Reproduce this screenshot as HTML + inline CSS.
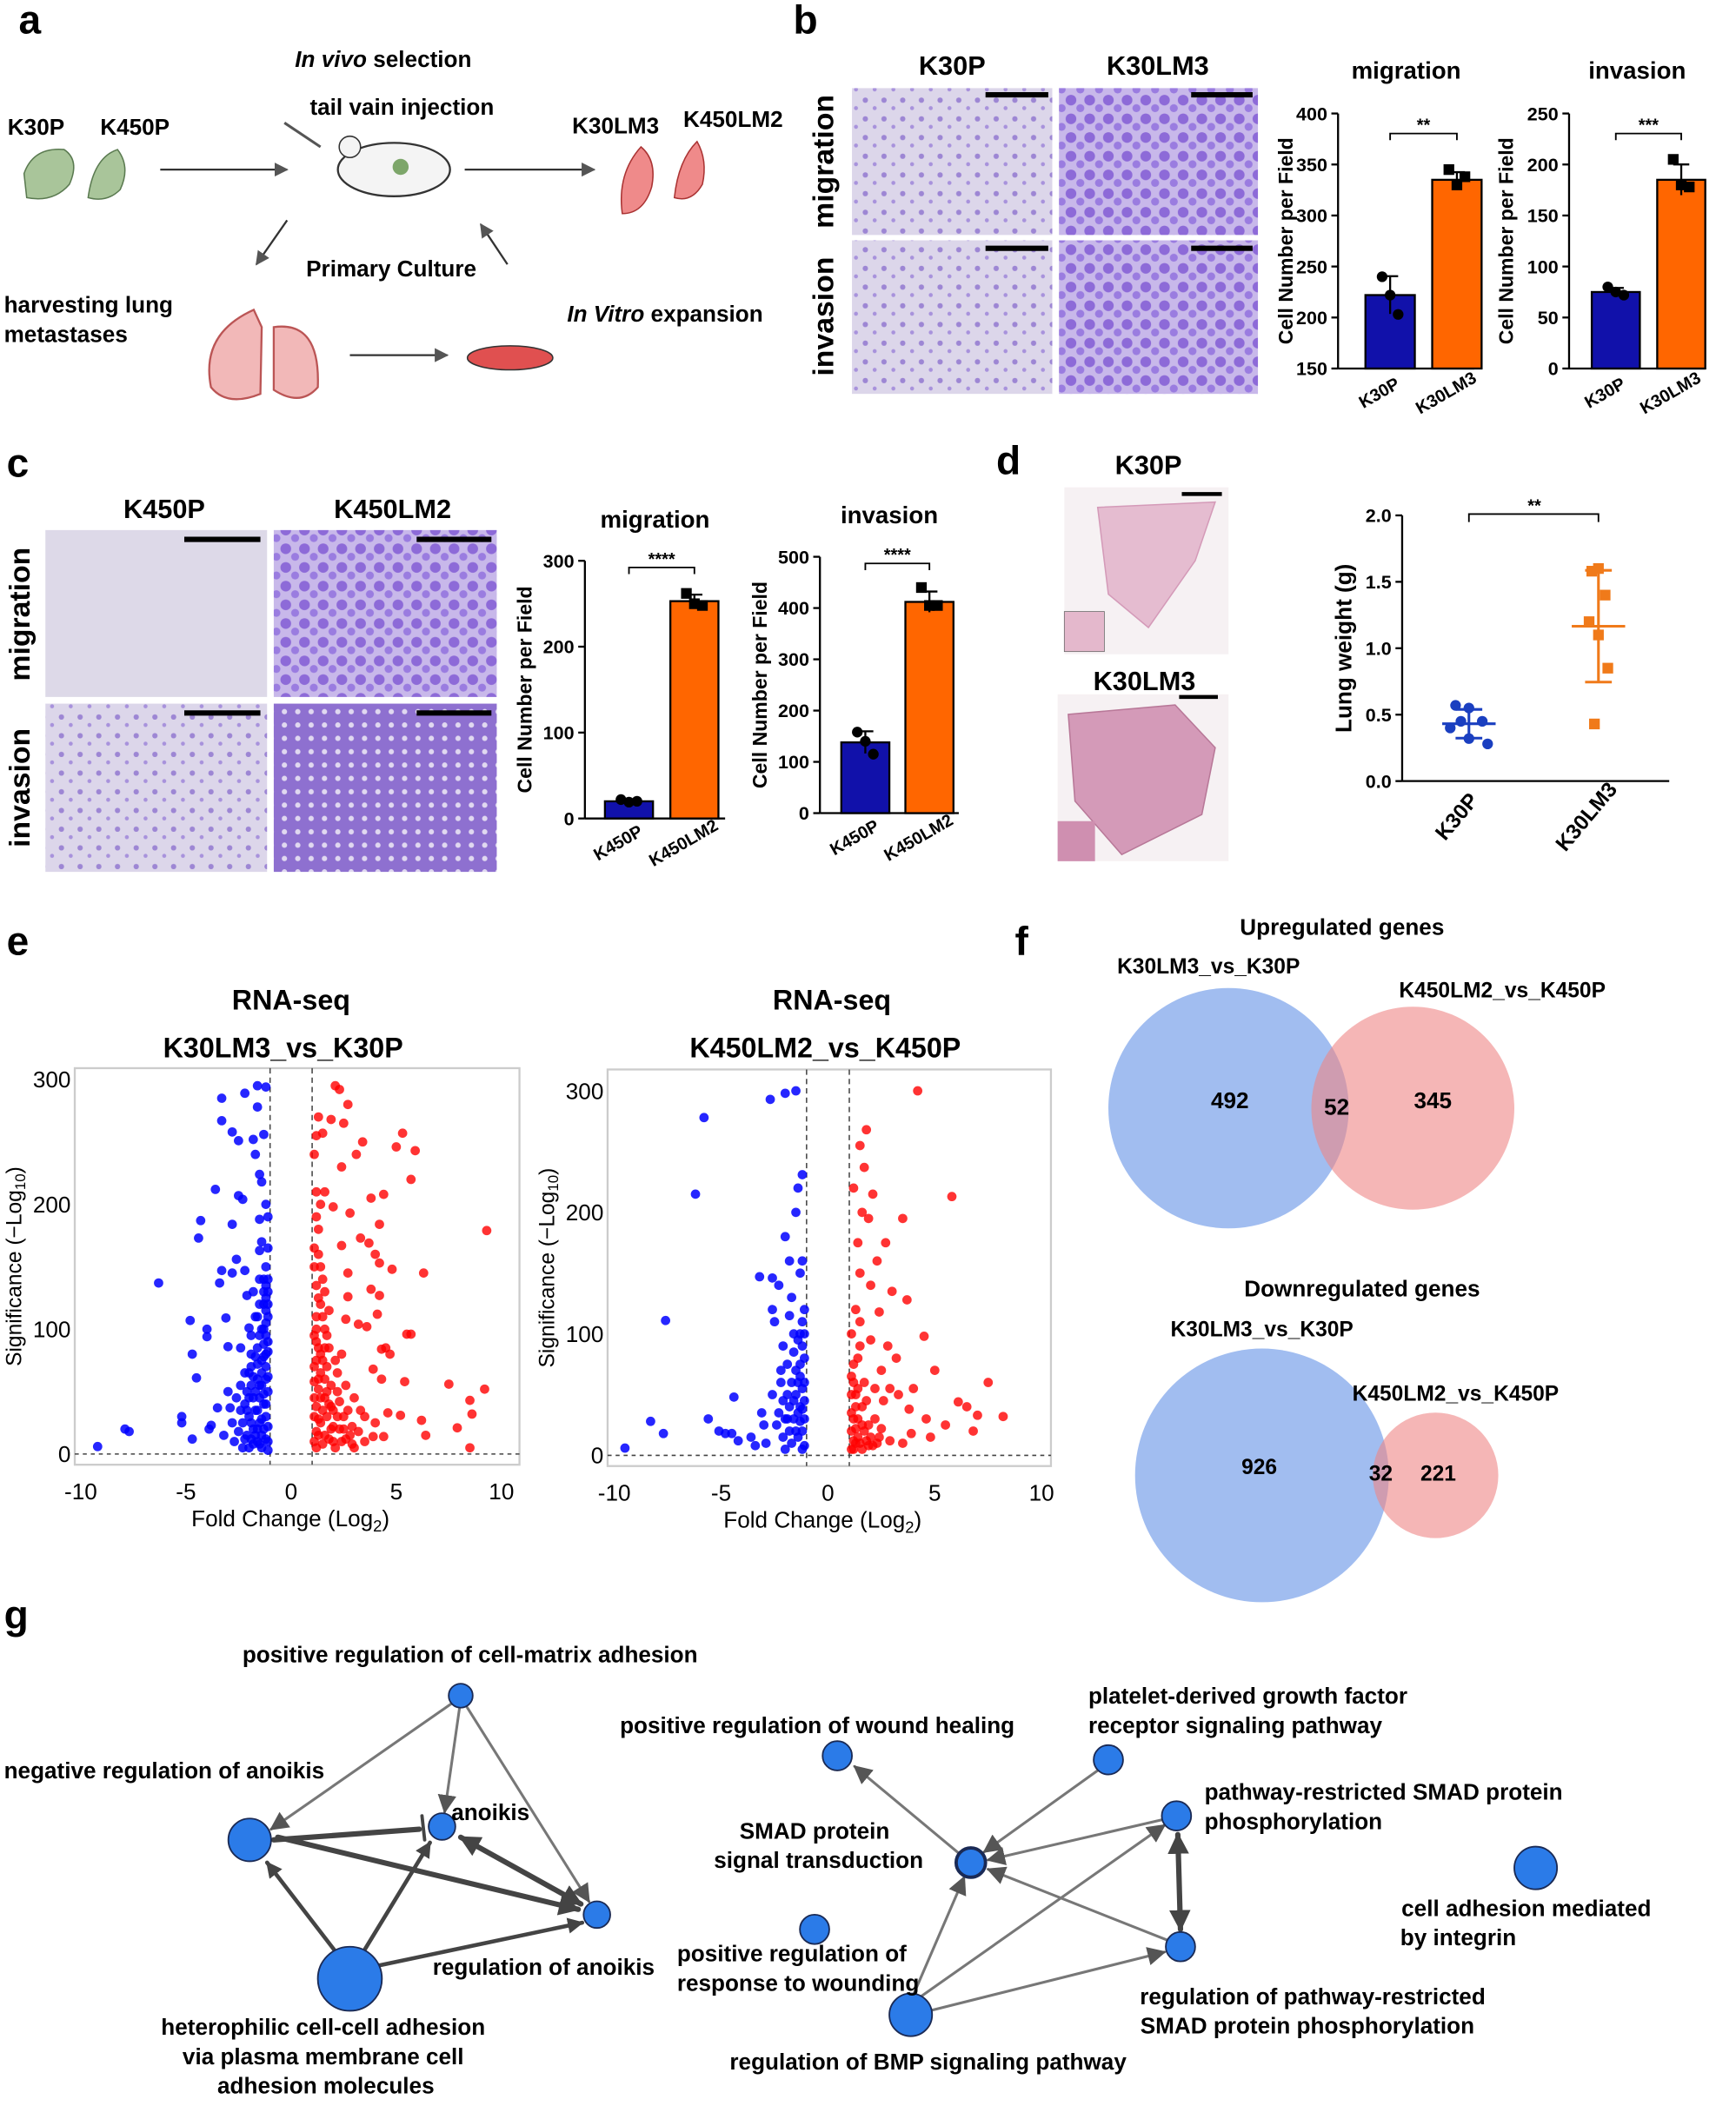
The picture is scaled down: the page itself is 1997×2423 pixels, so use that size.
<!DOCTYPE html>
<html><head><meta charset="utf-8"><style>
html,body{margin:0;padding:0;background:#fff}
svg{display:block}
text{font-family:"Liberation Sans",Arial,sans-serif}
.b{font-weight:bold}
</style></head><body>
<svg id="fig" xmlns="http://www.w3.org/2000/svg" width="1997" height="2423" viewBox="0 0 1300 1577.3" preserveAspectRatio="none">
<defs>
<pattern id="pl" width="14" height="14" patternUnits="userSpaceOnUse"><rect width="14" height="14" fill="#dcd6ea"/><circle cx="4" cy="5" r="2" fill="#9d86d4"/><circle cx="11" cy="11" r="1.5" fill="#a892dc"/></pattern>
<pattern id="pm" width="14" height="14" patternUnits="userSpaceOnUse"><rect width="14" height="14" fill="#c8b8ea"/><circle cx="4" cy="5" r="4" fill="#8d6ad8"/><circle cx="11" cy="11" r="3" fill="#9a7ce0"/></pattern>
<pattern id="pd" width="10" height="10" patternUnits="userSpaceOnUse"><rect width="10" height="10" fill="#8e70d0"/><circle cx="3" cy="3" r="2" fill="#e0d8f0"/></pattern>
<marker id="ar" viewBox="0 0 10 10" refX="9" refY="5" markerWidth="7" markerHeight="7" orient="auto"><path d="M0,0L10,5L0,10z" fill="#555"/></marker>
<marker id="ar2" viewBox="0 0 10 10" refX="9" refY="5" markerWidth="4" markerHeight="4" orient="auto-start-reverse"><path d="M0,0L10,5L0,10z" fill="#444"/></marker>
</defs>

<g>
<text x="14" y="25" font-size="30" class="b">a</text>
<text x="287" y="50" font-size="17" text-anchor="middle" class="b"><tspan font-style="italic">In vivo</tspan> selection</text>
<text x="301" y="86" font-size="17" text-anchor="middle" class="b">tail vain injection</text>
<text x="27" y="101" font-size="17" text-anchor="middle" class="b">K30P</text>
<text x="101" y="101" font-size="17" text-anchor="middle" class="b">K450P</text>
<path d="M18,130 Q25,110 48,112 Q60,120 52,138 Q40,152 20,148Z" fill="#a9c59a" stroke="#5a7a50"/>
<path d="M66,148 Q70,118 88,112 Q98,125 90,142 Q80,152 66,148Z" fill="#a9c59a" stroke="#5a7a50"/>
<line x1="120" y1="127" x2="215" y2="127" stroke="#333" stroke-width="1.5" marker-end="url(#ar)"/>
<ellipse cx="295" cy="127" rx="42" ry="20" fill="#f4f4f4" stroke="#333" stroke-width="1.5"/>
<circle cx="262" cy="110" r="8" fill="#f4f4f4" stroke="#333"/>
<circle cx="300" cy="125" r="6" fill="#7da66a"/>
<line x1="213" y1="92" x2="240" y2="110" stroke="#555" stroke-width="2"/>
<line x1="348" y1="127" x2="445" y2="127" stroke="#333" stroke-width="1.5" marker-end="url(#ar)"/>
<text x="461" y="100" font-size="17" text-anchor="middle" class="b">K30LM3</text>
<text x="549" y="95" font-size="17" text-anchor="middle" class="b">K450LM2</text>
<path d="M466,160 Q462,130 480,110 Q492,120 488,140 Q482,160 466,160Z" fill="#ef8a8a" stroke="#a33"/>
<path d="M505,148 Q508,120 522,106 Q530,120 526,138 Q518,152 505,148Z" fill="#ef8a8a" stroke="#a33"/>
<line x1="215" y1="165" x2="192" y2="198" stroke="#333" stroke-width="1.5" marker-end="url(#ar)"/>
<line x1="380" y1="198" x2="360" y2="168" stroke="#333" stroke-width="1.5" marker-end="url(#ar)"/>
<text x="293" y="207" font-size="17" text-anchor="middle" class="b">Primary Culture</text>
<text x="3" y="234" font-size="17" class="b">harvesting lung</text>
<text x="3" y="256" font-size="17" class="b">metastases</text>
<path d="M190,232 Q150,250 158,290 Q170,305 195,295 L196,245Z M205,245 Q240,240 238,290 Q225,305 205,292Z" fill="#f2b8b8" stroke="#b55" stroke-width="1.5"/>
<line x1="262" y1="266" x2="335" y2="266" stroke="#333" stroke-width="1.5" marker-end="url(#ar)"/>
<ellipse cx="382" cy="268" rx="32" ry="9" fill="#e05050" stroke="#333"/>
<text x="498" y="241" font-size="17" text-anchor="middle" class="b"><tspan font-style="italic">In Vitro</tspan> expansion</text>
</g>

<g>
<text x="594" y="25" font-size="30" class="b">b</text>
<text x="713" y="56" font-size="20" text-anchor="middle" class="b">K30P</text>
<text x="867" y="56" font-size="20" text-anchor="middle" class="b">K30LM3</text>
<text transform="translate(624,121) rotate(-90)" font-size="22" text-anchor="middle" class="b">migration</text>
<text transform="translate(624,237) rotate(-90)" font-size="22" text-anchor="middle" class="b">invasion</text>
<rect x="638" y="66" width="150" height="110" fill="url(#pl)"/>
<rect x="793" y="66" width="149" height="110" fill="url(#pm)"/>
<rect x="638" y="180" width="150" height="115" fill="url(#pl)"/>
<rect x="793" y="180" width="149" height="115" fill="url(#pm)"/>
<g stroke="#000" stroke-width="4"><line x1="738" y1="71" x2="785" y2="71"/><line x1="892" y1="71" x2="938" y2="71"/><line x1="738" y1="186" x2="785" y2="186"/><line x1="892" y1="186" x2="938" y2="186"/></g>
</g>

<g>
<text x="5" y="357" font-size="30" class="b">c</text>
<text x="123" y="388" font-size="20" text-anchor="middle" class="b">K450P</text>
<text x="294" y="388" font-size="20" text-anchor="middle" class="b">K450LM2</text>
<text transform="translate(22,460) rotate(-90)" font-size="22" text-anchor="middle" class="b">migration</text>
<text transform="translate(22,590) rotate(-90)" font-size="22" text-anchor="middle" class="b">invasion</text>
<rect x="34" y="397" width="166" height="125" fill="#ddd9e8"/>
<rect x="205" y="397" width="167" height="125" fill="url(#pm)"/>
<rect x="34" y="527" width="166" height="126" fill="url(#pl)"/>
<rect x="205" y="527" width="167" height="126" fill="url(#pd)"/>
<g stroke="#000" stroke-width="4"><line x1="138" y1="404" x2="195" y2="404"/><line x1="312" y1="404" x2="368" y2="404"/><line x1="138" y1="534" x2="195" y2="534"/><line x1="312" y1="534" x2="368" y2="534"/></g>
</g>

<g>
<text x="746" y="355" font-size="30" class="b">d</text>
<text x="860" y="355" font-size="20" text-anchor="middle" class="b">K30P</text>
<text x="857" y="517" font-size="20" text-anchor="middle" class="b">K30LM3</text>
<rect x="797" y="365" width="123" height="125" fill="#f6f1f3"/>
<path d="M822,380 L910,376 L895,420 L860,470 L830,445 Z" fill="#e5bcd0" stroke="#d49ab8"/>
<rect x="797" y="458" width="30" height="30" fill="#e4b8cc" stroke="#666" stroke-width="0.5"/>
<rect x="792" y="520" width="128" height="125" fill="#f6f1f3"/>
<path d="M800,535 L880,528 L910,560 L900,610 L840,640 L805,600 Z" fill="#d49ab8" stroke="#b87898"/>
<rect x="792" y="615" width="28" height="30" fill="#cf8fb0"/>
<g stroke="#000" stroke-width="3"><line x1="885" y1="370" x2="915" y2="370"/><line x1="883" y1="522" x2="912" y2="522"/></g>
</g>

<text x="5" y="715" font-size="30" class="b">e</text>
<text x="218" y="756" font-size="21" text-anchor="middle" class="b">RNA-seq</text>
<text x="212" y="792" font-size="21" text-anchor="middle" class="b">K30LM3_vs_K30P</text>
<text x="623" y="756" font-size="21" text-anchor="middle" class="b">RNA-seq</text>
<text x="618" y="792" font-size="21" text-anchor="middle" class="b">K450LM2_vs_K450P</text>

<g>
<text x="760" y="715" font-size="30" class="b">f</text>
<text x="1005" y="700" font-size="17" text-anchor="middle" class="b">Upregulated genes</text>
<circle cx="920" cy="830" r="90" fill="#6e9ae8" fill-opacity="0.65"/>
<circle cx="1058" cy="830" r="76" fill="#ef8585" fill-opacity="0.6"/>
<text x="905" y="729" font-size="16" text-anchor="middle" class="b">K30LM3_vs_K30P</text>
<text x="1125" y="747" font-size="16" text-anchor="middle" class="b">K450LM2_vs_K450P</text>
<text x="921" y="830" font-size="17" text-anchor="middle" class="b">492</text>
<text x="1001" y="835" font-size="17" text-anchor="middle" class="b">52</text>
<text x="1073" y="830" font-size="17" text-anchor="middle" class="b">345</text>
<text x="1020" y="971" font-size="17" text-anchor="middle" class="b">Downregulated genes</text>
<circle cx="945" cy="1105" r="95" fill="#6e9ae8" fill-opacity="0.65"/>
<circle cx="1075" cy="1105" r="47" fill="#ef8585" fill-opacity="0.6"/>
<text x="945" y="1001" font-size="16" text-anchor="middle" class="b">K30LM3_vs_K30P</text>
<text x="1090" y="1049" font-size="16" text-anchor="middle" class="b">K450LM2_vs_K450P</text>
<text x="943" y="1104" font-size="16" text-anchor="middle" class="b">926</text>
<text x="1034" y="1109" font-size="16" text-anchor="middle" class="b">32</text>
<text x="1077" y="1109" font-size="16" text-anchor="middle" class="b">221</text>
</g>

<g stroke-linecap="round">
<text x="3" y="1220" font-size="30" class="b">g</text>
<g stroke="#777" stroke-width="2" fill="none">
<line x1="338" y1="1276" x2="203" y2="1370" marker-end="url(#ar)"/>
<line x1="344" y1="1280" x2="333" y2="1357" marker-end="url(#ar)"/>
<line x1="350" y1="1279" x2="441" y2="1424" marker-end="url(#ar)"/>
<line x1="718" y1="1388" x2="640" y2="1323" marker-end="url(#ar)"/>
<line x1="822" y1="1326" x2="737" y2="1387" marker-end="url(#ar)"/>
<line x1="870" y1="1363" x2="740" y2="1393" marker-end="url(#ar)"/>
<line x1="874" y1="1453" x2="740" y2="1400" marker-end="url(#ar)"/>
<line x1="690" y1="1495" x2="872" y2="1367" marker-end="url(#ar)"/>
<line x1="696" y1="1506" x2="872" y2="1462" marker-end="url(#ar)"/>
<line x1="684" y1="1494" x2="722" y2="1406" marker-end="url(#ar)"/>
</g>
<g stroke="#444" stroke-width="4" fill="none">
<line x1="205" y1="1378" x2="314" y2="1370"/>
<line x1="316" y1="1360" x2="318" y2="1378" stroke-width="2.5"/>
<line x1="208" y1="1376" x2="433" y2="1430" marker-end="url(#ar2)"/>
<line x1="345" y1="1376" x2="435" y2="1426" marker-start="url(#ar2)" marker-end="url(#ar2)"/>
<line x1="250" y1="1460" x2="200" y2="1395" stroke-width="3" marker-end="url(#ar2)"/>
<line x1="272" y1="1462" x2="322" y2="1380" stroke-width="3" marker-end="url(#ar2)"/>
<line x1="284" y1="1472" x2="436" y2="1440" stroke-width="3" marker-end="url(#ar2)"/>
<line x1="882" y1="1374" x2="884" y2="1445" marker-start="url(#ar2)" marker-end="url(#ar2)"/>
</g>
<g fill="#2b7be8" stroke="#1a2a55" stroke-width="1.2">
<circle cx="345" cy="1270" r="9"/>
<circle cx="331" cy="1368" r="10"/>
<circle cx="187" cy="1378" r="16"/>
<circle cx="447" cy="1434" r="10"/>
<circle cx="262" cy="1482" r="24"/>
<circle cx="627" cy="1315" r="11"/>
<circle cx="830" cy="1318" r="11"/>
<circle cx="727" cy="1395" r="11" stroke-width="2.5"/>
<circle cx="881" cy="1360" r="11"/>
<circle cx="610" cy="1445" r="11"/>
<circle cx="682" cy="1509" r="16"/>
<circle cx="884" cy="1458" r="11"/>
<circle cx="1150" cy="1399" r="16"/>
</g>
<g font-size="17" class="b" fill="#000" stroke="none">
<text x="352" y="1245" text-anchor="middle">positive regulation of cell-matrix adhesion</text>
<text x="3" y="1332">negative regulation of anoikis</text>
<text x="338" y="1363">anoikis</text>
<text x="324" y="1479">regulation of anoikis</text>
<text x="242" y="1524" text-anchor="middle">heterophilic cell-cell adhesion</text>
<text x="242" y="1546" text-anchor="middle">via plasma membrane cell</text>
<text x="244" y="1568" text-anchor="middle">adhesion molecules</text>
<text x="612" y="1298" text-anchor="middle">positive regulation of wound healing</text>
<text x="815" y="1276">platelet-derived growth factor</text>
<text x="815" y="1298">receptor signaling pathway</text>
<text x="610" y="1377" text-anchor="middle">SMAD protein</text>
<text x="613" y="1399" text-anchor="middle">signal transduction</text>
<text x="902" y="1348">pathway-restricted SMAD protein</text>
<text x="902" y="1370">phosphorylation</text>
<text x="507" y="1469">positive regulation of</text>
<text x="507" y="1491">response to wounding</text>
<text x="695" y="1550" text-anchor="middle">regulation of BMP signaling pathway</text>
<text x="983" y="1501" text-anchor="middle">regulation of pathway-restricted</text>
<text x="979" y="1523" text-anchor="middle">SMAD protein phosphorylation</text>
<text x="1143" y="1435" text-anchor="middle">cell adhesion mediated</text>
<text x="1092" y="1457" text-anchor="middle">by integrin</text>
</g>
</g>
<g id="charts"></g>
</svg>
<script>
const bCats = ["K30P","K30LM3"];
const bMigMean = [222, 335];
const bMigPts = [[240,222,203],[345,330,338]];
const bInvMean = [75, 185];
const bInvPts = [[80,75,72],[205,180,178]];
const cCats = ["K450P","K450LM2"];
const cMigMean = [20, 253];
const cMigPts = [[22,19,20],[262,250,248]];
const cInvMean = [138, 412];
const cInvPts = [[158,140,115],[440,405,405]];
const bMigTicks = [150,200,250,300,350,400];
const bInvTicks = [0,50,100,150,200,250];
const cMigTicks = [0,100,200,300];
const cInvTicks = [0,100,200,300,400,500];
const dCats = ["K30P","K30LM3"];
const dK30P = [0.55,0.57,0.45,0.40,0.32,0.28,0.45];
const dK30LM3 = [1.60,1.58,1.40,1.20,1.10,0.85,0.43];
const dTicks = [0.0,0.5,1.0,1.5,2.0];
const v1Down = [[-9.2,6],[-7.9,20],[-7.7,18],[-6.3,137],[-5.2,30],[-5.2,25],[-4.8,107],[-4.7,80],[-4.7,12],[-4.5,61],[-4.4,173],[-4.3,187],[-4.0,100],[-4.0,94],[-3.9,20],[-3.8,23],[-3.6,212],[-3.5,37],[-3.4,137],[-3.3,285],[-3.3,267],[-3.3,147],[-3.1,109],[-3.0,86],[-2.9,37],[-2.8,258],[-2.8,184],[-2.8,145],[-2.6,156],[-2.5,207],[-2.5,251],[-2.3,204],[-2.2,289],[-2.2,147],[-2.1,127],[-2.0,101],[-1.9,80],[-1.8,252],[-1.7,240],[-1.6,278],[-1.6,295],[-1.5,224],[-1.5,188],[-1.5,163],[-1.4,218],[-1.3,256],[-1.2,200],[-1.2,294],[-1.1,190],[-1.1,165],[-2.4,55],[-2.2,40],[-2.0,30],[-1.8,20],[-1.6,10],[-1.4,5],[-1.2,60],[-1.1,90],[-1.3,120],[-1.5,140],[-1.7,110],[-1.9,70],[-2.1,15],[-2.3,25],[-2.6,45],[-2.7,10],[-3.2,15],[-3.0,50],[-1.2,30],[-1.4,75],[-1.6,85],[-1.8,45],[-2.0,5],[-1.3,100],[-1.1,130],[-1.2,150],[-1.4,170],[-1.6,60],[-1.9,95],[-2.4,85],[-1.1,10],[-1.3,40],[-1.5,25],[-1.7,35],[-2.2,65],[-2.5,18],[-1.1,50],[-1.2,80],[-1.4,55],[-1.6,110],[-1.8,130],[-1.5,8],[-1.9,55],[-2.1,50],[-2.8,25],[-1.2,115],[-1.3,140],[-1.1,110],[-1.5,95],[-1.7,15],
[-1.1,3],[-1.2,12],[-1.3,20],[-1.1,22],[-1.2,40],[-1.3,48],[-1.1,62],[-1.2,70],[-1.3,78],[-1.1,82],[-1.2,95],[-1.3,88],[-1.4,65],[-1.5,45],[-1.6,35],[-1.7,50],[-1.8,8],[-1.9,25],[-2.0,45],[-2.1,35],[-2.2,12],[-2.3,5],[-2.4,35],[-1.4,28],[-1.5,55],[-1.6,72],[-1.7,78],[-1.8,62],[-1.9,12],[-2.0,65],[-1.4,15],[-1.6,20],[-1.2,105],[-1.1,120],[-1.3,130],[-1.2,135],[-1.4,100],[-1.5,120],[-1.1,140],[-1.2,125]];
const v1Up = [[1.2,5],[1.1,30],[1.3,60],[1.2,90],[1.4,120],[1.1,150],[1.3,180],[1.2,210],[1.1,240],[1.3,270],[1.2,255],[1.5,140],[1.6,100],[1.7,70],[1.8,40],[1.9,20],[2.0,10],[2.2,50],[2.4,80],[2.1,295],[2.3,292],[2.7,280],[2.5,265],[1.9,268],[1.5,257],[5.3,257],[3.4,250],[5.0,246],[5.9,243],[3.1,240],[2.4,230],[5.7,220],[1.6,210],[4.4,208],[3.8,205],[2.0,198],[2.8,193],[4.2,184],[9.3,179],[3.3,173],[3.7,169],[2.4,167],[4.0,160],[4.2,153],[4.8,148],[6.3,145],[2.7,145],[3.8,132],[4.2,127],[2.7,126],[4.1,112],[2.6,108],[3.2,104],[3.6,102],[5.5,96],[5.7,96],[4.3,84],[4.5,85],[4.7,80],[3.9,68],[4.3,60],[5.4,58],[7.5,56],[9.2,52],[8.5,43],[8.6,32],[7.9,21],[8.5,5],[6.4,15],[6.2,27],[5.2,31],[4.6,33],[4.4,14],[3.9,14],[2.9,22],[3.5,30],[3.0,45],[2.6,55],[2.2,65],[1.4,25],[1.6,45],[1.8,85],[1.3,15],[1.5,8],[1.7,30],[2.0,35],[2.3,20],[2.6,12],[2.9,8],[3.2,18],[3.5,10],[4.0,25],[1.2,110],[1.4,80],[1.1,70],[1.9,55],[2.1,75],[1.6,60],[2.5,30],[3.3,35],
[1.1,10],[1.2,18],[1.3,28],[1.1,45],[1.2,38],[1.3,52],[1.1,58],[1.2,75],[1.3,85],[1.1,95],[1.2,100],[1.4,45],[1.5,35],[1.6,15],[1.7,50],[1.8,12],[1.9,38],[2.0,22],[2.1,5],[2.2,30],[2.3,42],[2.4,10],[2.5,20],[2.7,35],[2.8,15],[3.0,5],[1.4,65],[1.5,75],[1.6,85],[1.7,95],[1.5,110],[1.3,125],[1.2,135],[1.4,150],[1.1,165],[1.3,160],[1.2,190],[1.4,200],[1.6,130],[1.8,115]];
const v1XTicks = [-10,-5,0,5,10];
const v1YTicks = [0,100,200,300];
const v2Down = [[-9.5,6],[-8.3,28],[-7.6,111],[-7.7,18],[-6.2,215],[-5.8,278],[-5.6,30],[-5.1,20],[-4.8,18],[-4.4,48],[-4.5,18],[-4.2,12],[-3.6,15],[-3.4,8],[-3.2,147],[-3.1,35],[-3.0,25],[-2.9,10],[-2.7,293],[-2.6,146],[-2.6,120],[-2.5,110],[-2.3,140],[-2.2,60],[-2.1,90],[-2.0,298],[-2.0,180],[-1.9,75],[-1.8,160],[-1.7,130],[-1.6,100],[-1.6,45],[-1.5,300],[-1.5,200],[-1.4,220],[-1.3,150],[-1.2,231],[-1.2,160],[-1.1,120],[-1.1,80],[-1.3,40],[-1.5,20],[-1.7,10],[-1.9,30],[-2.1,15],[-2.4,25],[-2.6,50],[-1.2,5],[-1.4,60],[-1.6,85],[-1.8,115],[-2.0,5],[-2.3,35],[-1.1,30],[-1.3,100],[-1.5,70],[-1.2,55],[-1.4,15],[-1.8,40],[-2.2,70],
[-1.1,8],[-1.2,20],[-1.3,28],[-1.1,45],[-1.2,38],[-1.3,65],[-1.1,60],[-1.2,90],[-1.4,35],[-1.5,50],[-1.6,30],[-1.7,60],[-1.8,20],[-1.9,50],[-2.0,30],[-2.1,45],[-1.4,95],[-1.3,75],[-1.1,100],[-1.2,110]];
const v2Up = [[1.2,5],[1.1,20],[1.3,40],[1.2,60],[1.4,80],[1.1,100],[1.3,120],[1.5,150],[1.4,175],[1.6,200],[1.2,220],[1.5,255],[1.8,268],[1.7,237],[1.9,195],[2.1,215],[4.2,300],[5.8,213],[3.5,195],[2.7,175],[2.3,160],[2.0,140],[3.0,135],[2.4,118],[3.7,128],[4.5,98],[2.8,90],[3.2,80],[2.5,70],[5.0,70],[4.0,55],[3.3,50],[6.1,44],[7.5,60],[6.5,40],[7.0,33],[8.2,32],[5.5,25],[4.6,30],[3.9,18],[2.9,12],[2.2,30],[1.8,45],[1.6,25],[1.9,8],[2.4,15],[3.5,10],[2.6,45],[1.3,10],[1.7,60],[2.0,95],[1.4,30],[1.1,50],[1.5,110],[2.9,55],[3.8,38],[4.8,15],[6.8,20],[1.6,5],[2.2,55],
[1.1,5],[1.2,12],[1.3,22],[1.1,35],[1.2,30],[1.3,50],[1.1,65],[1.2,75],[1.4,15],[1.5,10],[1.6,40],[1.7,20],[1.8,12],[1.9,25],[2.0,15],[2.1,8],[2.3,10],[2.5,22],[1.4,55],[1.5,90]];
const v2XTicks = [-10,-5,0,5,10];
const v2YTicks = [0,100,200,300];

const NS = "http://www.w3.org/2000/svg";
const root = document.getElementById("charts");
function mk(tag, attrs, parent){const e=document.createElementNS(NS,tag);for(const k in attrs)e.setAttribute(k,attrs[k]);(parent||root).appendChild(e);return e;}
function txt(x,y,s,size,anchor,extra,parent){const t=mk("text",Object.assign({x:x,y:y,"font-size":size,"text-anchor":anchor||"middle"},extra||{}),parent);t.textContent=s;return t;}

function barChart(o){
  const g=mk("g",{});
  
  
  const y=v=>o.y0-(v-o.vmin)/(o.vmax-o.vmin)*(o.y0-o.y1);
  const ax=mk("line",{x1:o.ax,y1:o.y1,x2:o.ax,y2:o.y0,stroke:"#000","stroke-width":1.5},g);
  
  
  mk("line",{x1:o.ax,y1:o.y0,x2:o.ax+o.w,y2:o.y0,stroke:"#000","stroke-width":1.5},g);
  o.ticks.forEach(t=>{mk("line",{x1:o.ax-5,y1:y(t),x2:o.ax,y2:y(t),stroke:"#000","stroke-width":1.5},g);
    const tl=txt(o.ax-8,y(t)+5,String(t),14,"end",{"font-weight":"bold"},g);
    
    });
  const tt=txt(o.ax+o.w/2,o.titleY,o.title,18,"middle",{"font-weight":"bold"},g);
  
  
  const yl=txt(0,0,"Cell Number per Field",15,"middle",{"font-weight":"bold",transform:`translate(${o.ylx},${(o.y0+o.y1)/2}) rotate(-90)`},g);
  
  
  const cols=["#1111aa","#ff6600"];
  o.cats.forEach((c,i)=>{
    const cx=o.ax+o.off+i*o.gap, m=o.mean[i];
    const r=mk("rect",{x:cx-o.bw/2,y:y(m),width:o.bw,height:o.y0-y(m),fill:cols[i],stroke:"#000","stroke-width":1.5},g);
    
    
    const pts=o.pts[i];const mn=pts.reduce((a,b)=>a+b,0)/pts.length;
    const sd=Math.sqrt(pts.reduce((a,b)=>a+(b-mn)*(b-mn),0)/(pts.length-1));
    mk("line",{x1:cx,y1:y(m+sd),x2:cx,y2:y(Math.max(o.vmin,m-sd)),stroke:"#000","stroke-width":1.5},g);
    mk("line",{x1:cx-6,y1:y(m+sd),x2:cx+6,y2:y(m+sd),stroke:"#000","stroke-width":1.5},g);
    pts.forEach((p,j)=>{
      const dx=(j-1)*6;
      const el = i==0 ? mk("circle",{cx:cx+dx,cy:y(p),r:4,fill:"#000"},g) : mk("rect",{x:cx+dx-4,y:y(p)-4,width:8,height:8,fill:"#000"},g);
      
      
    });
    const xl=txt(0,0,c,13,"middle",{"font-weight":"bold",transform:`translate(${cx-6},${o.y0+22}) rotate(-30)`},g);
    
    
  });
  const x1=o.ax+o.off, x2=o.ax+o.off+o.gap, sy=o.sigY;
  mk("path",{d:`M${x1},${sy+5}V${sy}H${x2}V${sy+5}`,fill:"none",stroke:"#000","stroke-width":1.2},g);
  const st=txt((x1+x2)/2,sy-2,o.sig,13,"middle",{"font-weight":"bold"},g);
  
  
}
barChart({name:"b-migration-chart",cats:bCats,mean:bMigMean,pts:bMigPts,ticks:bMigTicks,vmin:150,vmax:400,ax:1002,w:102,off:39,gap:50,bw:37,y0:276,y1:85,title:"migration",titleY:59,ylx:968,sigY:100,sig:"**"});
barChart({name:"b-invasion-chart",cats:bCats,mean:bInvMean,pts:bInvPts,ticks:bInvTicks,vmin:0,vmax:250,ax:1175,w:102,off:35,gap:49,bw:36,y0:276,y1:85,title:"invasion",titleY:59,ylx:1133,sigY:100,sig:"***"});
barChart({name:"c-migration-chart",cats:cCats,mean:cMigMean,pts:cMigPts,ticks:cMigTicks,vmin:0,vmax:300,ax:438,w:105,off:33,gap:49,bw:36,y0:613,y1:420,title:"migration",titleY:395,ylx:398,sigY:425,sig:"****"});
barChart({name:"c-invasion-chart",cats:cCats,mean:cInvMean,pts:cInvPts,ticks:cInvTicks,vmin:0,vmax:500,ax:614,w:104,off:34,gap:48,bw:36,y0:609,y1:417,title:"invasion",titleY:392,ylx:574,sigY:422,sig:"****"});

(function(){
  const g=mk("g",{});
  
  
  const ax=1050,y0=585,y1=386,vmax=2.0;
  const y=v=>y0-v/vmax*(y0-y1);
  mk("line",{x1:ax,y1:y1,x2:ax,y2:y0,stroke:"#000","stroke-width":1.5},g);
  mk("line",{x1:ax,y1:y0,x2:1250,y2:y0,stroke:"#000","stroke-width":1.5},g);
  dTicks.forEach(t=>{mk("line",{x1:ax-5,y1:y(t),x2:ax,y2:y(t),stroke:"#000","stroke-width":1.5},g);
    const tl=txt(ax-8,y(t)+5,t.toFixed(1),14,"end",{"font-weight":"bold"},g);
    
    });
  const yl=txt(0,0,"Lung weight (g)",17,"middle",{"font-weight":"bold",transform:`translate(1012,${(y0+y1)/2}) rotate(-90)`},g);
  
  
  const xs=[1100,1197], cols=["#1a3fc0","#f07a1a"], sets=[dK30P,dK30LM3];
  const offs=[0,-10,10,-14,0,14,-6];
  sets.forEach((s,i)=>{
    const cx=xs[i];const mn=s.reduce((a,b)=>a+b,0)/s.length;
    const sd=Math.sqrt(s.reduce((a,b)=>a+(b-mn)*(b-mn),0)/(s.length-1));
    mk("line",{x1:cx-20,y1:y(mn),x2:cx+20,y2:y(mn),stroke:cols[i],"stroke-width":2},g);
    mk("line",{x1:cx,y1:y(mn+sd),x2:cx,y2:y(mn-sd),stroke:cols[i],"stroke-width":2},g);
    mk("line",{x1:cx-10,y1:y(mn+sd),x2:cx+10,y2:y(mn+sd),stroke:cols[i],"stroke-width":2},g);
    mk("line",{x1:cx-10,y1:y(mn-sd),x2:cx+10,y2:y(mn-sd),stroke:cols[i],"stroke-width":2},g);
    s.forEach((v,j)=>{
      const el = i==0 ? mk("circle",{cx:cx+offs[j],cy:y(v),r:4,fill:cols[i]},g) : mk("rect",{x:cx+offs[j]/2-4,y:y(v)-4,width:8,height:8,fill:cols[i]},g);
      
      
    });
    const xl=txt(0,0,dCats[i],16,"middle",{"font-weight":"bold",transform:`translate(${cx-5},${y0+30}) rotate(-50)`},g);
    
    
  });
  mk("path",{d:`M1100,391V385H1197V391`,fill:"none",stroke:"#000","stroke-width":1.2},g);
  txt(1149,383,"**",13,"middle",{"font-weight":"bold"},g);
})();

function volcano(o){
  const g=mk("g",{});
  
  
  const X=v=>o.x0+v*o.sx, Y=v=>o.y0-v*o.sy;
  mk("rect",{x:o.bx,y:o.by,width:o.bw,height:o.bh,fill:"#fff",stroke:"#ccc","stroke-width":1.5},g);
  [-1,1].forEach(v=>mk("line",{x1:X(v),y1:o.by,x2:X(v),y2:o.by+o.bh,stroke:"#444","stroke-dasharray":"4,3"},g));
  mk("line",{x1:o.bx,y1:Y(0),x2:o.bx+o.bw,y2:Y(0),stroke:"#444","stroke-dasharray":"3,3"},g);
  o.down.forEach(p=>{const c=mk("circle",{cx:X(p[0]),cy:Y(p[1]),r:3.5,fill:"#0000ff","fill-opacity":0.85},g);
    
    });
  o.up.forEach(p=>{const c=mk("circle",{cx:X(p[0]),cy:Y(p[1]),r:3.5,fill:"#ff0000","fill-opacity":0.8},g);
    
    });
  o.xt.forEach(t=>{const l=txt(X(t),o.by+o.bh+26,String(t),17,"middle",{},g);
    
    });
  o.yt.forEach(t=>{const l=txt(o.bx-3,Y(t)+6,String(t),17,"end",{},g);
    
    });
  const xl=txt(o.bx+o.bw/2-5,o.by+o.bh+46,"",17,"middle",{},g);
  xl.innerHTML='Fold Change (Log<tspan font-size="12" dy="4">2</tspan><tspan dy="-4">)</tspan>';
  
  
  const yl=txt(0,0,"",16,"middle",{transform:`translate(${o.bx-40},${o.by+o.bh/2}) rotate(-90)`},g);
  yl.innerHTML='Significance (\u2212Log<tspan font-size="11" dy="3">10</tspan><tspan dy="-3">)</tspan>';
  
  
}
volcano({name:"volcano-k30",down:v1Down,up:v1Up,xt:v1XTicks,yt:v1YTicks,x0:218,sx:15.75,y0:1089,sy:0.935,bx:56,by:800,bw:333,bh:297});
volcano({name:"volcano-k450",down:v2Down,up:v2Up,xt:v2XTicks,yt:v2YTicks,x0:620,sx:16,y0:1090,sy:0.91,bx:455,by:801,bw:332,bh:297});
</script>
</body></html>
